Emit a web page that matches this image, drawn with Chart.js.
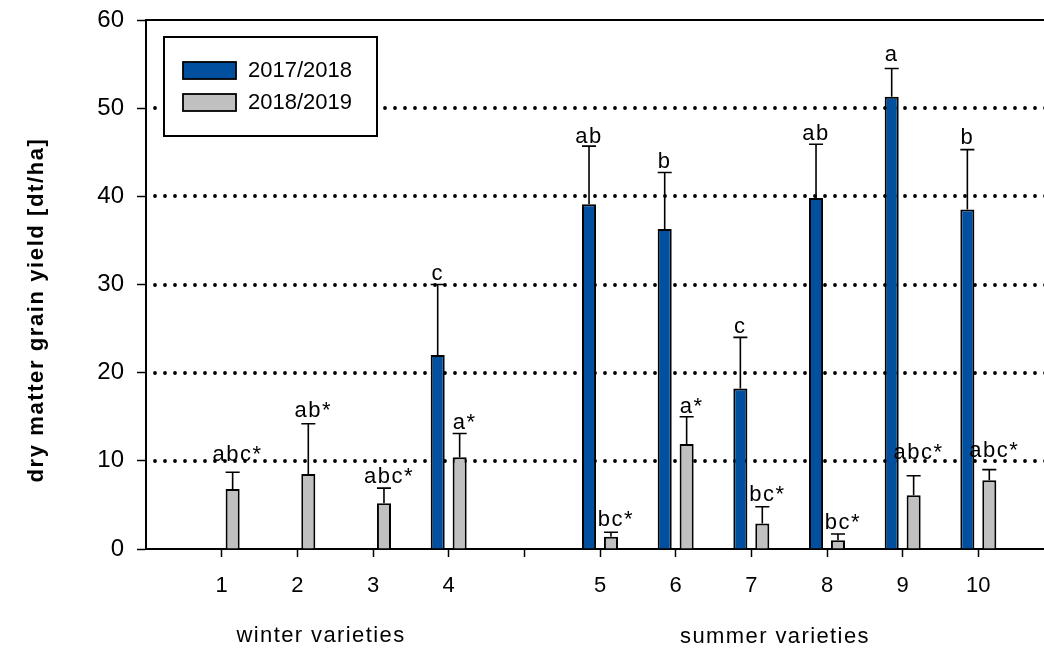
<!DOCTYPE html>
<html>
<head>
<meta charset="utf-8">
<script src="https://cdn.jsdelivr.net/npm/chart.js@4.4.1/dist/chart.umd.min.js"></script>
<style>
  html, body { margin: 0; padding: 0; background: #fff; overflow: hidden; }
  #wrap { width: 1070px; height: 649px; }
</style>
</head>
<body>
<div id="wrap"><canvas id="grainYield" width="1070" height="649"></canvas></div>
<script>
// varieties on the x axis ('' = empty slot before, between and after the groups)
var varieties = ['', '1', '2', '3', '4', '', '5', '6', '7', '8', '9', '10', ''];
var seasons = ['2017/2018', '2018/2019'];

// 2017/2018
var yield1718 = [null, null, null, null, 22.0, null, 39.1, 36.3, 18.2, 39.8, 51.3, 38.5, null];
var sd1718 = [null, null, null, null, 8.0, null, 6.6, 6.4, 5.8, 6.1, 3.2, 6.8, null];
var letters1718 = ['', '', '', '', 'c', '', 'ab', 'b', 'c', 'ab', 'a', 'b', ''];
var letterAt1718 = [null, null, null, null, 30.5, null, 46.1, 43.2, 24.5, 46.4, 55.3, 45.9, null];

// 2018/2019
var yield1819 = [null, 6.8, 8.5, 5.2, 10.4, null, 1.4, 11.9, 2.9, 1.0, 6.1, 7.8, null];
var sd1819 = [null, 1.9, 5.7, 1.7, 2.7, null, 0.5, 3.1, 1.9, 0.7, 2.2, 1.2, null];
var letters1819 = ['', 'abc*', 'ab*', 'abc*', 'a*', '', 'bc*', 'a*', 'bc*', 'bc*', 'abc*', 'abc*', ''];
var letterAt1819 = [null, 10.0, 15.0, 7.5, 13.6, null, 2.6, 15.4, 5.5, 2.3, 10.2, 10.4, null];

var yTicks = [0, 10, 20, 30, 40, 50, 60];

var yTitle = 'dry matter grain yield [dt/ha]';
var groupLabels = ['winter varieties', 'summer varieties'];

var FONT = '"Liberation Sans", Arial, sans-serif';

// dotted horizontal grid + solid top frame line
var gridPlugin = {
    id: 'dottedGrid',
    beforeDatasetsDraw: function (chart) {
        var ctx = chart.ctx;
        var area = chart.chartArea;
        var y = chart.scales.y;
        ctx.save();
        ctx.strokeStyle = '#000';
        ctx.lineWidth = 3.8;
        ctx.lineCap = 'round';
        ctx.setLineDash([0, 10]);
        y.ticks.forEach(function (t) {
            if (t.value <= y.min || t.value >= y.max) return;
            var py = Math.round(y.getPixelForValue(t.value));
            ctx.beginPath();
            ctx.moveTo(area.left + 9, py);
            ctx.lineTo(area.right, py);
            ctx.stroke();
        });
        ctx.setLineDash([]);
        ctx.lineCap = 'butt';
        ctx.lineWidth = 2;
        ctx.beginPath();
        ctx.moveTo(area.left, area.top);
        ctx.lineTo(area.right + 10, area.top);
        ctx.stroke();
        ctx.restore();
    }
};

// error bars (upper only) and significance letters
var errorPlugin = {
    id: 'errorBars',
    afterDatasetsDraw: function (chart) {
        var ctx = chart.ctx;
        var y = chart.scales.y;
        var sds = [sd1718, sd1819];
        var letters = [letters1718, letters1819];
        var letterAt = [letterAt1718, letterAt1819];
        var letterShift = [0, 5];
        ctx.save();
        chart.data.datasets.forEach(function (ds, d) {
            var meta = chart.getDatasetMeta(d);
            meta.data.forEach(function (bar, i) {
                var v = ds.data[i];
                if (v === null) return;
                var top = y.getPixelForValue(v + sds[d][i]);
                var half = bar.width / 2;
                ctx.strokeStyle = '#000';
                ctx.lineWidth = 1.6;
                ctx.beginPath();
                ctx.moveTo(bar.x, bar.y);
                ctx.lineTo(bar.x, top);
                ctx.moveTo(bar.x - half, top);
                ctx.lineTo(bar.x + half, top);
                ctx.stroke();
                if (letters[d][i]) {
                    ctx.fillStyle = '#000';
                    ctx.font = '22px ' + FONT;
                    ctx.letterSpacing = '1.5px';
                    ctx.textAlign = 'center';
                    ctx.textBaseline = 'alphabetic';
                    ctx.fillText(letters[d][i], bar.x + letterShift[d], y.getPixelForValue(letterAt[d][i]));
                }
            });
        });
        ctx.restore();
    }
};

// boxed legend, axis title and group labels
var textPlugin = {
    id: 'boxLegend',
    afterDraw: function (chart) {
        var ctx = chart.ctx;
        ctx.save();
        // legend box
        ctx.fillStyle = '#fff';
        ctx.fillRect(164, 37, 213, 99);
        ctx.strokeStyle = '#000';
        ctx.lineWidth = 2;
        ctx.strokeRect(164, 37, 213, 99);
        chart.data.datasets.forEach(function (ds, d) {
            var sy = 62 + d * 32;
            ctx.fillStyle = ds.backgroundColor;
            ctx.fillRect(183, sy, 53, 17);
            ctx.lineWidth = 1.8;
            ctx.strokeStyle = '#000';
            ctx.strokeRect(183, sy, 53, 17);
            ctx.fillStyle = '#000';
            ctx.font = '22px ' + FONT;
            ctx.textAlign = 'left';
            ctx.textBaseline = 'middle';
            ctx.fillText(ds.label, 248, sy + 9);
        });

        // y axis title
        ctx.save();
        ctx.translate(37, 310);
        ctx.rotate(-Math.PI / 2);
        ctx.font = 'bold 22px ' + FONT;
        ctx.letterSpacing = '1.6px';
        ctx.textAlign = 'center';
        ctx.textBaseline = 'middle';
        ctx.fillText(yTitle, 0, 0);
        ctx.restore();

        // group labels under the x axis
        ctx.font = '22px ' + FONT;
        ctx.letterSpacing = '1.4px';
        ctx.textAlign = 'center';
        ctx.textBaseline = 'middle';
        ctx.fillText(groupLabels[0], 321, 636);
        ctx.fillText(groupLabels[1], 775, 637);
        ctx.restore();
    }
};

var ctxYield = document.getElementById('grainYield').getContext('2d');

var dataYield = {
    labels: varieties,
    datasets: [{
        label: seasons[0],
        data: yield1718,
        backgroundColor: '#00509F',
        borderColor: '#000',
        borderWidth: 2,
        categoryPercentage: 0.58,
        barPercentage: 0.64
    }, {
        label: seasons[1],
        data: yield1819,
        backgroundColor: '#C0C0C0',
        borderColor: '#000',
        borderWidth: 2,
        categoryPercentage: 0.58,
        barPercentage: 0.64
    }]
};

var optionsYield = {
    responsive: false,
    animation: false,
    devicePixelRatio: 1,
    layout: {
        padding: { top: 20, right: 0, left: 0, bottom: 0 }
    },
    scales: {
        x: {
            type: 'category',
            offset: false,
            afterFit: function (scale) { scale.height = 100; },
            grid: {
                display: true,
                offset: false,
                drawOnChartArea: false,
                drawTicks: true,
                tickLength: 8,
                tickWidth: 1.5,
                tickColor: function (c) {
                    return (c.index === 0 || c.index === varieties.length - 1) ? 'rgba(0,0,0,0)' : '#000';
                }
            },
            border: { display: true, color: '#000', width: 2 },
            ticks: {
                autoSkip: false,
                maxRotation: 0,
                color: '#000',
                padding: 16,
                font: { family: FONT, size: 22 }
            }
        },
        y: {
            min: 0,
            max: 60,
            afterFit: function (scale) { scale.width = 146; },
            afterBuildTicks: function (scale) {
                scale.ticks = yTicks.map(function (v) { return { value: v }; });
            },
            grid: {
                display: true,
                drawOnChartArea: false,
                drawTicks: true,
                tickLength: 9,
                tickWidth: 1.5,
                tickColor: '#000'
            },
            border: { display: true, color: '#000', width: 2 },
            ticks: {
                color: '#000',
                padding: 13,
                font: { family: FONT, size: 24, lineHeight: 0.5 }
            }
        }
    },
    plugins: {
        legend: { display: false },
        tooltip: { enabled: false }
    }
};

var GrainYield = new Chart(ctxYield, {
    type: 'bar',
    data: dataYield,
    options: optionsYield,
    plugins: [gridPlugin, errorPlugin, textPlugin]
});
</script>
</body>
</html>
